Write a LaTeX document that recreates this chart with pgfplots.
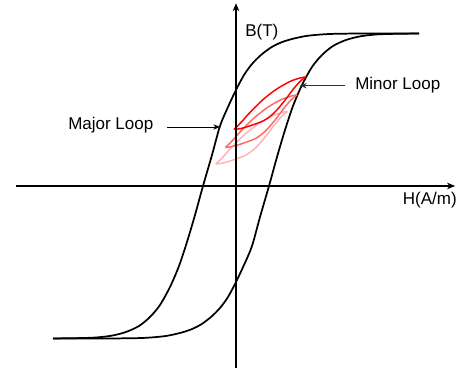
\documentclass[border=0pt]{standalone}
\usepackage{fontspec}
\setmainfont{Liberation Sans}
\usepackage{pgfplots}
\pgfplotsset{compat=1.18}
\usetikzlibrary{arrows.meta}

\begin{document}
\begin{tikzpicture}[font=\fontsize{12.75}{15}\selectfont]
\begin{axis}[
  scale only axis, width=329.25pt, height=273.5pt,
  xmin=-220, xmax=219, ymin=-182, ymax=182.7,
  enlargelimits=false, axis lines=middle, axis on top,
  xtick=\empty, ytick=\empty,
  axis line style={line width=0.9pt, -{Stealth[length=6pt,width=5pt]}},
  clip=false,
]
% major loop, descending branch
\addplot[black, line width=1.3pt, smooth] coordinates {
  (183,152.5) (130,152.5) (100,152.2) (85,151.5) (70,150) (56,147) (45,143.5)
  (35,138.5) (25,131) (16,122) (8,111) (0,96) (-8,79) (-16,60) (-24,31) (-33,0)
  (-41,-29) (-49,-56) (-57,-80) (-66,-101) (-76,-119) (-86,-131) (-97,-140)
  (-110,-146) (-125,-149.8) (-145,-151.8) (-183,-152.5)};
% major loop, ascending branch
\addplot[black, line width=1.3pt, smooth] coordinates {
  (-183,-152.5) (-130,-152.5) (-100,-152.2) (-85,-151.5) (-70,-150) (-56,-147) (-45,-143.5)
  (-35,-138.5) (-25,-131) (-16,-122) (-8,-111) (0,-96) (8,-79) (16,-60) (24,-31) (33,0)
  (41,29) (49,56) (57,80) (66,101) (76,119) (86,131) (97,140)
  (110,146) (125,149.8) (145,151.8) (183,152.5)};
% minor loops
\addplot[red!30, line width=1.1pt, smooth] coordinates {
  (-20,22) (-13,29) (-5,38) (8,51) (22,62) (36,70) (46,73.5) (51.5,74.5)};
\addplot[red!30, line width=1.1pt, smooth] coordinates {
  (51.5,74.5) (46,70) (39,62) (30,50) (20,38.5) (10,31) (-3,26) (-13,23) (-20,22)};
\addplot[red!60, line width=1.1pt, smooth] coordinates {
  (-10.5,38.5) (-3.5,45.5) (4.5,54.5) (17.5,67.5) (31.5,78.5) (45.5,86.5) (55.5,90) (61,91)};
\addplot[red!60, line width=1.1pt, smooth] coordinates {
  (61,91) (55.5,86.5) (48.5,78.5) (39.5,66.5) (29.5,55) (19.5,47.5) (6.5,42.5) (-3.5,39.5) (-10.5,38.5)};
\addplot[red, line width=1.1pt, smooth] coordinates {
  (-2,56.5) (5,63.5) (13,72.5) (26,85.5) (40,96.5) (54,104.5) (64,108) (69.5,109)};
\addplot[red, line width=1.1pt, smooth] coordinates {
  (69.5,109) (64,104.5) (57,96.5) (48,84.5) (38,73) (28,65.5) (15,60.5) (5,57.5) (-2,56.5)};
% labels and arrows
\node[anchor=west, inner sep=0pt] at (axis cs:9,153.5) {B(T)};
\node[anchor=east, inner sep=0pt] at (axis cs:221,-14) {H(A/m)};
\node[anchor=base west, inner sep=0pt] at (axis cs:-168,56) {Major Loop};
\node[anchor=base west, inner sep=0pt] at (axis cs:119,96) {Minor Loop};
\draw[black, line width=0.7pt, -{Stealth[length=5pt,width=4pt]}] (axis cs:-68.7,59) -- (axis cs:-16,59);
\draw[black!80, line width=0.7pt, -{Stealth[length=5pt,width=4pt]}] (axis cs:109,100.3) -- (axis cs:64,100.3);
\path (axis cs:-236,-187) rectangle (axis cs:224,186);
\end{axis}
\end{tikzpicture}
\end{document}
